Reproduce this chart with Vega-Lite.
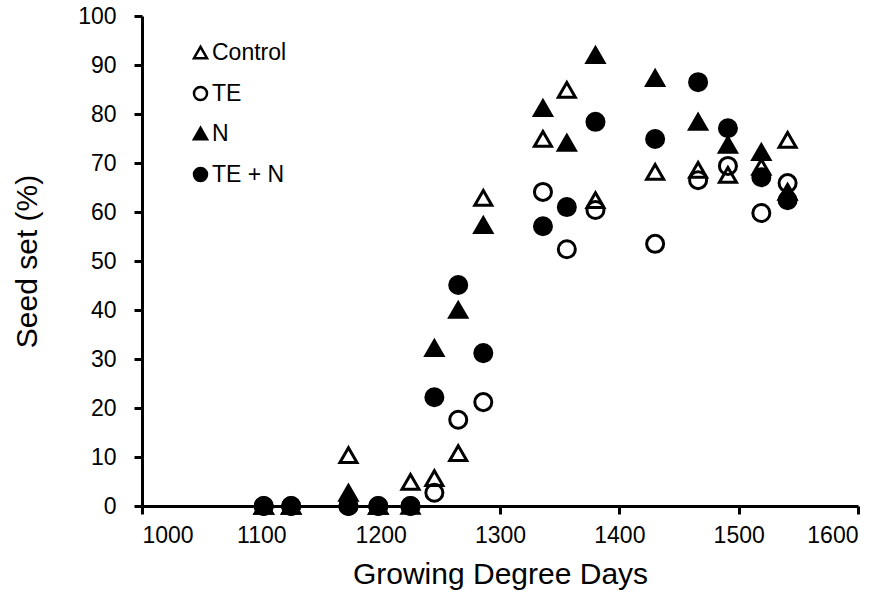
{
  "$schema": "https://vega.github.io/schema/vega-lite/v6.json",
  "width": 716,
  "height": 490,
  "autosize": {"type": "none"},
  "padding": {"left": 142, "top": 16, "right": 32, "bottom": 92},
  "background": "white",
  "config": {
    "view": {"stroke": null},
    "font": "Liberation Sans",
    "axis": {
      "grid": false,
      "domainColor": "black",
      "domainWidth": 3,
      "tickColor": "black",
      "tickWidth": 3,
      "tickSize": 8,
      "labelFont": "Liberation Sans",
      "labelFontSize": 23,
      "labelColor": "black",
      "titleFont": "Liberation Sans",
      "titleFontSize": 30,
      "titleFontWeight": "normal",
      "titleColor": "black"
    },
    "legend": {
      "title": null, "orient": "none", "legendX": 47, "legendY": 25,
      "symbolSize": 170, "symbolStrokeWidth": 2.5,
      "labelFontSize": 23, "labelFont": "Liberation Sans", "labelColor": "black",
      "labelOffset": 0, "rowPadding": 16, "padding": 0
    }
  },
  "data": {
    "values": [
      {"series": "Control", "gdd": 1102, "seed": 0},
      {"series": "Control", "gdd": 1125, "seed": 0},
      {"series": "Control", "gdd": 1173, "seed": 10.4},
      {"series": "Control", "gdd": 1198, "seed": 0},
      {"series": "Control", "gdd": 1225, "seed": 4.9},
      {"series": "Control", "gdd": 1245, "seed": 5.7},
      {"series": "Control", "gdd": 1265, "seed": 10.8},
      {"series": "Control", "gdd": 1286, "seed": 62.9},
      {"series": "Control", "gdd": 1336, "seed": 74.9},
      {"series": "Control", "gdd": 1356, "seed": 84.9},
      {"series": "Control", "gdd": 1380, "seed": 62.4},
      {"series": "Control", "gdd": 1430, "seed": 68.2},
      {"series": "Control", "gdd": 1466, "seed": 68.6},
      {"series": "Control", "gdd": 1491, "seed": 67.6},
      {"series": "Control", "gdd": 1519, "seed": 69.2},
      {"series": "Control", "gdd": 1541, "seed": 74.7},
      {"series": "TE", "gdd": 1102, "seed": 0},
      {"series": "TE", "gdd": 1125, "seed": 0},
      {"series": "TE", "gdd": 1173, "seed": 0},
      {"series": "TE", "gdd": 1198, "seed": 0},
      {"series": "TE", "gdd": 1225, "seed": 0},
      {"series": "TE", "gdd": 1245, "seed": 2.7},
      {"series": "TE", "gdd": 1265, "seed": 17.6},
      {"series": "TE", "gdd": 1286, "seed": 21.2},
      {"series": "TE", "gdd": 1336, "seed": 64.1},
      {"series": "TE", "gdd": 1356, "seed": 52.4},
      {"series": "TE", "gdd": 1380, "seed": 60.4},
      {"series": "TE", "gdd": 1430, "seed": 53.5},
      {"series": "TE", "gdd": 1466, "seed": 66.5},
      {"series": "TE", "gdd": 1491, "seed": 69.4},
      {"series": "TE", "gdd": 1519, "seed": 59.8},
      {"series": "TE", "gdd": 1541, "seed": 65.9},
      {"series": "N", "gdd": 1102, "seed": 0},
      {"series": "N", "gdd": 1125, "seed": 0},
      {"series": "N", "gdd": 1173, "seed": 2.7},
      {"series": "N", "gdd": 1198, "seed": 0},
      {"series": "N", "gdd": 1225, "seed": 0},
      {"series": "N", "gdd": 1245, "seed": 32.2},
      {"series": "N", "gdd": 1265, "seed": 40.0},
      {"series": "N", "gdd": 1286, "seed": 57.3},
      {"series": "N", "gdd": 1336, "seed": 81.2},
      {"series": "N", "gdd": 1356, "seed": 74.1},
      {"series": "N", "gdd": 1380, "seed": 92.0},
      {"series": "N", "gdd": 1430, "seed": 87.3},
      {"series": "N", "gdd": 1466, "seed": 78.4},
      {"series": "N", "gdd": 1491, "seed": 73.7},
      {"series": "N", "gdd": 1519, "seed": 72.2},
      {"series": "N", "gdd": 1541, "seed": 64.1},
      {"series": "TE + N", "gdd": 1102, "seed": 0},
      {"series": "TE + N", "gdd": 1125, "seed": 0},
      {"series": "TE + N", "gdd": 1173, "seed": 0},
      {"series": "TE + N", "gdd": 1198, "seed": 0},
      {"series": "TE + N", "gdd": 1225, "seed": 0},
      {"series": "TE + N", "gdd": 1245, "seed": 22.2},
      {"series": "TE + N", "gdd": 1265, "seed": 45.1},
      {"series": "TE + N", "gdd": 1286, "seed": 31.2},
      {"series": "TE + N", "gdd": 1336, "seed": 57.1},
      {"series": "TE + N", "gdd": 1356, "seed": 61.0},
      {"series": "TE + N", "gdd": 1380, "seed": 78.4},
      {"series": "TE + N", "gdd": 1430, "seed": 74.9},
      {"series": "TE + N", "gdd": 1466, "seed": 86.5},
      {"series": "TE + N", "gdd": 1491, "seed": 77.1},
      {"series": "TE + N", "gdd": 1519, "seed": 67.1},
      {"series": "TE + N", "gdd": 1541, "seed": 62.4}
    ]
  },
  "mark": {"type": "point", "filled": true, "strokeWidth": 3, "size": 290, "opacity": 1, "clip": false},
  "encoding": {
    "x": {
      "field": "gdd", "type": "quantitative",
      "scale": {"domain": [1000, 1600], "nice": false, "zero": false},
      "axis": {"values": [1000, 1100, 1200, 1300, 1400, 1500, 1600], "format": "d", "labelPadding": 10, "title": "Growing Degree Days", "titlePadding": 12}
    },
    "y": {
      "field": "seed", "type": "quantitative",
      "scale": {"domain": [0, 100], "nice": false},
      "axis": {"values": [0, 10, 20, 30, 40, 50, 60, 70, 80, 90, 100], "labelPadding": 18, "title": "Seed set (%)", "titlePadding": 35}
    },
    "shape": {
      "field": "series", "type": "nominal",
      "scale": {"domain": ["Control", "TE", "N", "TE + N"], "range": ["triangle-up", "circle", "triangle-up", "circle"]}
    },
    "fill": {
      "field": "series", "type": "nominal",
      "scale": {"domain": ["Control", "TE", "N", "TE + N"], "range": ["transparent", "transparent", "black", "black"]}
    },
    "stroke": {
      "field": "series", "type": "nominal",
      "scale": {"domain": ["Control", "TE", "N", "TE + N"], "range": ["black", "black", "black", "black"]}
    }
  }
}
